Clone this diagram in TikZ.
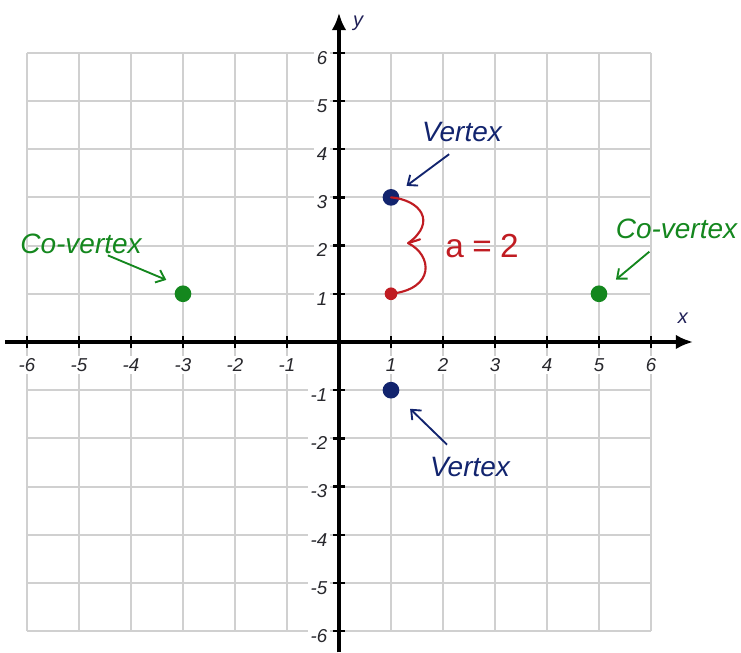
\documentclass[tikz,border=0pt]{standalone}
\usepackage{fontspec}
\setmainfont{Liberation Sans}
\usepackage{xcolor}
\usepackage{tikz}
\usetikzlibrary{arrows.meta,positioning}

\definecolor{vtxblue}{RGB}{18,36,110}
\definecolor{covgreen}{RGB}{20,135,30}
\definecolor{bracered}{RGB}{192,28,34}
\definecolor{gridgray}{RGB}{208,208,208}
\definecolor{numgray}{RGB}{40,40,45}

\begin{document}
\begin{tikzpicture}[
  x=39pt, y=36.15pt,
  gridline/.style={draw=gridgray, line width=1.4pt},
  axisline/.style={line width=2.6pt, -{Latex[length=13pt, width=11pt]}},
  tickmark/.style={line width=1.8pt},
  num/.style={font=\fontsize{14}{14}\selectfont\itshape, text=numgray,
              fill=white, inner sep=2pt},
  axlabel/.style={font=\fontsize{15}{15}\selectfont\itshape, text=numgray!80!blue},
  dot/.style={circle, inner sep=0pt, minimum size=12.5pt},
  note/.style={font=\fontsize{21}{21}\selectfont\itshape, inner sep=2pt},
  pointer/.style={line width=1.4pt, -{Straight Barb[length=6pt, width=10pt]}},
  brace/.style={draw=bracered, line width=1.6pt, line cap=round, line join=round}
]
\useasboundingbox (-6.519,-6.432) rectangle (7.731,7.095);

\foreach \i in {-6,...,6} {
  \draw[gridline] (\i,-6) -- (\i,6);
  \draw[gridline] (-6,\i) -- (6,\i);
}

\foreach \i in {-6,...,-1,1,2,...,6} {
  \node[num] (xnum\i) at (\i,-0.48) {\i};
  \node[num, anchor=east] (ynum\i) at (-0.17,\i-0.1) {\i};
}

\coordinate (xleft) at (-6.42,0);
\coordinate (xright) at (6.81,0);
\coordinate (ybottom) at (0,-6.44);
\coordinate (ytop) at (0,6.83);
\draw[axisline] (xleft) -- (xright);
\draw[axisline] (ybottom) -- (ytop);

\foreach \i in {-6,...,-1,1,2,...,6} {
  \draw[tickmark] (\i,0) ++(0,-4.5pt) -- ++(0,9pt);
  \draw[tickmark] (0,\i) ++(-4.5pt,0) -- ++(9pt,0);
}

\node[axlabel] (xlab) at (6.615,0.50) {x};
\node[axlabel] (ylab) at (0.37,6.62) {y};

\node[dot, fill=vtxblue] (vtop) at (1,3) {};
\node[dot, fill=vtxblue] (vbot) at (1,-1) {};
\node[dot, fill=covgreen] (cleft) at (-3,1) {};
\node[dot, fill=covgreen] (cright) at (5,1) {};
\node[circle, fill=bracered, inner sep=0pt, minimum size=9.5pt] (ctr) at (1,1) {};

\coordinate (bcusp) at (1.33,2.05);
\coordinate (bnotch) at (1.56,2.13);
\draw[brace] (vtop.center) .. controls (1.55,2.95) and (1.9,2.5) .. (bcusp)
  .. controls (1.8,1.8) and (1.85,1.1) .. (ctr.center);
\draw[brace] (bcusp) -- (bnotch);
\node[font=\fontsize{25}{25}\selectfont, text=bracered] (aeq) at (2.75,1.99)
  {a\hspace{.25em}=\hspace{.25em}2};

\node[note, text=vtxblue] (vtxtop) at (2.365,4.357) {Vertex};
\node[note, text=vtxblue] (vtxbot) at (2.52,-2.593) {Vertex};
\node[note, text=covgreen] (covleft) at (-4.96,2.03) {Co-vertex};
\node[note, text=covgreen] (covright) at (6.49,2.344) {Co-vertex};

\draw[pointer, vtxblue, shorten <=12pt, shorten >=14.5pt] (vtxtop.south) -- (vtop.center);
\draw[pointer, vtxblue, shorten <=24pt, shorten >=20pt] (vtxbot.center) -- (vbot.center);
\draw[pointer, covgreen, shorten <=26.5pt, shorten >=16.6pt] (covright.center) -- (cright.center);
\draw[pointer, covgreen, shorten <=21.8pt, shorten >=11.2pt] (covleft.center) -- (cleft.110);
\end{tikzpicture}
\end{document}
